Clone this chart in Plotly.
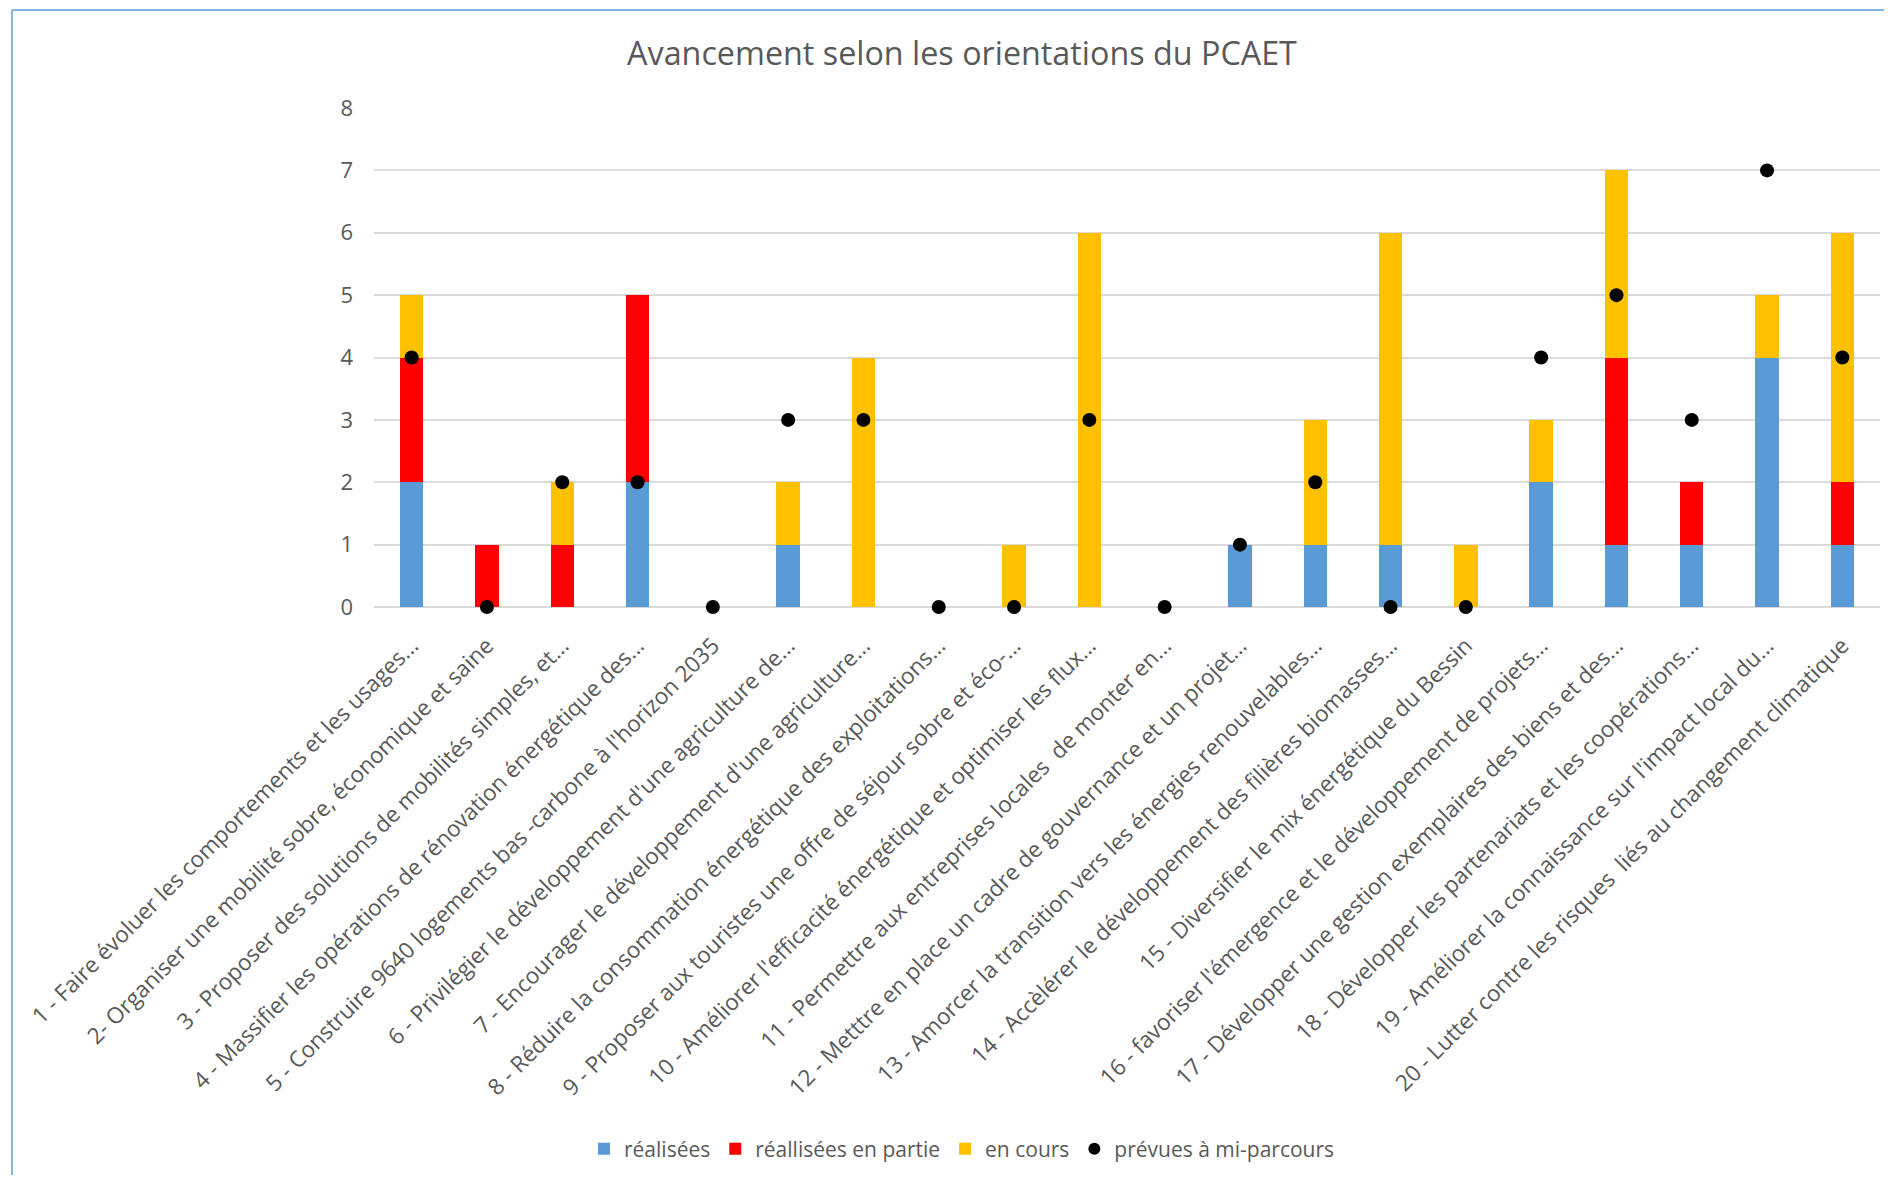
import plotly.graph_objects as go

categories = [
    "1 - Faire évoluer les comportements et les usages...",
    "2- Organiser une mobilité sobre, économique et saine",
    "3 - Proposer des solutions de mobilités simples, et...",
    "4 - Massifier les opérations de rénovation énergétique des...",
    "5 - Construire 9640 logements bas -carbone à l'horizon 2035",
    "6 - Privilégier le développement d'une agriculture de...",
    "7 - Encourager le développement d'une agriculture...",
    "8 - Réduire la consommation énergétique des exploitations...",
    "9 - Proposer aux touristes une offre de séjour sobre et éco-...",
    "10 - Améliorer l'efficacité énergétique et optimiser les flux...",
    "11 - Permettre aux entreprises locales  de monter en...",
    "12 - Metttre en place un cadre de gouvernance et un projet...",
    "13 - Amorcer la transition vers les énergies renouvelables...",
    "14 - Accèlérer le développement des filières biomasses...",
    "15 - Diversifier le mix énergétique du Bessin",
    "16 - favoriser l'émergence et le développement de projets...",
    "17 - Développer une gestion exemplaires des biens et des...",
    "18 - Développer les partenariats et les coopérations...",
    "19 - Améliorer la connaissance sur l'impact local du...",
    "20 - Lutter contre les risques  liés au changement climatique",
]
realisees = [2, 0, 0, 2, 0, 1, 0, 0, 0, 0, 0, 1, 1, 1, 0, 2, 1, 1, 4, 1]
en_partie = [2, 1, 1, 3, 0, 0, 0, 0, 0, 0, 0, 0, 0, 0, 0, 0, 3, 1, 0, 1]
en_cours = [1, 0, 1, 0, 0, 1, 4, 0, 1, 6, 0, 0, 2, 5, 1, 1, 3, 0, 1, 4]
prevues = [4, 0, 2, 2, 0, 3, 3, 0, 0, 3, 0, 1, 2, 0, 0, 4, 5, 3, 7, 4]
y_ticks = [0, 1, 2, 3, 4, 5, 6, 7, 8]

FONT = "Open Sans"
GREY = "#595959"
# page is 1892x1183; the browser body has an 8px margin
O = 8
FW, FH = 1892 - 2 * O, 1183 - 2 * O
# target page positions of the plot area
PL, PR, PT, PB = 374, 1880, 108, 607
L = PL - O
T = PT - O
R = FW - (PR - O)
B = FH - (PB - O)

fig = go.Figure()
fig.add_trace(go.Bar(x=categories, y=realisees, name="réalisées",
                     marker=dict(color="#5B9BD5", line=dict(width=0))))
fig.add_trace(go.Bar(x=categories, y=en_partie, name="réallisées en partie",
                     marker=dict(color="#FF0000", line=dict(width=0))))
fig.add_trace(go.Bar(x=categories, y=en_cours, name="en cours",
                     marker=dict(color="#FFC000", line=dict(width=0))))
fig.add_trace(go.Scatter(x=categories, y=prevues, name="prévues à mi-parcours",
                         mode="markers", cliponaxis=False,
                         marker=dict(color="black", size=14, symbol="circle")))

pw = FW - L - R
ph = FH - T - B
px2x = lambda px: (px - O - L) / pw
py2y = lambda py: (FH - B - (py - O)) / ph

fig.update_layout(
    width=FW, height=FH,
    margin=dict(l=L, r=R, t=T, b=B, autoexpand=False),
    barmode="stack", bargap=0.69,
    plot_bgcolor="white", paper_bgcolor="white",
    font=dict(family=FONT, color=GREY, size=22),
    title=dict(text="Avancement selon les orientations du PCAET",
               font=dict(family=FONT, size=32.3, color=GREY),
               xref="container", x=(962 - O) / FW, xanchor="center",
               yref="container", y=1 - (54 - O) / FH, yanchor="middle"),
    legend=dict(orientation="h", xref="container", x=(962 - O) / FW, xanchor="center",
                yref="container", y=1 - (1149 - O) / FH, yanchor="middle",
                font=dict(family=FONT, size=21, color=GREY),
                itemsizing="constant", traceorder="normal", itemwidth=30),
    xaxis=dict(tickangle=-45, tickfont=dict(family=FONT, size=22.5, color=GREY),
               showgrid=False, showline=False, ticks="", automargin=False,
               range=[-0.5, len(categories) - 0.5], ticklabelstandoff=20),
    yaxis=dict(range=[0, 8], tickvals=y_ticks, showgrid=True,
               gridcolor="#D9D9D9", gridwidth=1.5, zeroline=True,
               zerolinecolor="#D9D9D9", zerolinewidth=1.5,
               tickfont=dict(family=FONT, size=22, color=GREY),
               ticklabelstandoff=20, automargin=False),
    shapes=[
        dict(type="line", xref="paper", yref="paper",
             x0=px2x(12), x1=px2x(12), y0=py2y(10), y1=py2y(1200),
             line=dict(color="#5B9BD5", width=1.5), layer="above"),
        dict(type="line", xref="paper", yref="paper",
             x0=px2x(12), x1=px2x(1900), y0=py2y(10), y1=py2y(10),
             line=dict(color="#5B9BD5", width=1.5), layer="above"),
    ],
)

fig.write_html("out.html")
